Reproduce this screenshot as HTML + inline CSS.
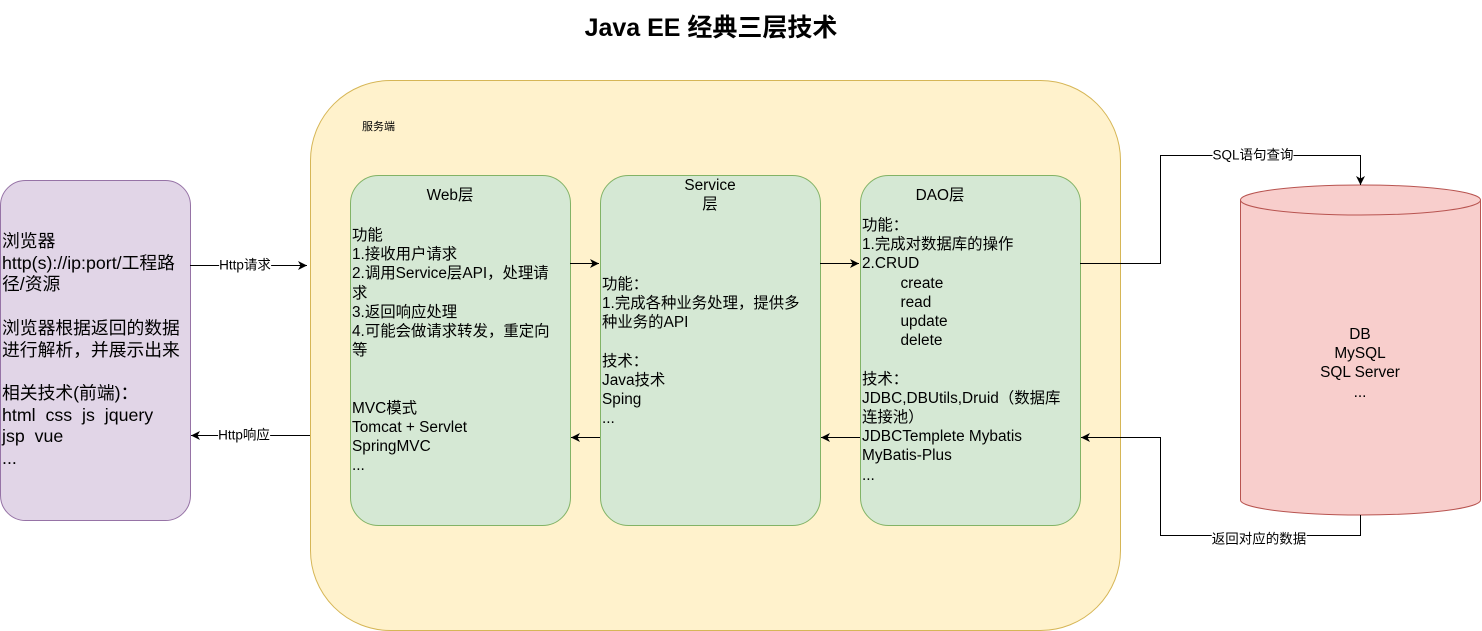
<!DOCTYPE html>
<html><head><meta charset="utf-8"><style>
body{margin:0;width:1482px;height:631px;background:#fff;position:relative;overflow:hidden;font-family:"Liberation Sans","Noto Sans CJK SC",sans-serif;color:#000}
.a{position:absolute;white-space:nowrap}
.t{position:absolute;font-size:15.4px;line-height:19.2px;white-space:nowrap}
.lb{position:absolute;font-size:13.5px;background:#fff;line-height:15px;transform:translate(-50%,-50%);white-space:nowrap}
</style></head><body>
<div class="a" style="left:0;width:1422px;top:8px;text-align:center;font-size:25px;font-weight:bold">Java EE 经典三层技术</div>
<svg width="1482" height="631" style="position:absolute;left:0;top:0">
<defs><marker id="m" markerWidth="10" markerHeight="10" refX="9" refY="5" orient="auto" markerUnits="userSpaceOnUse"><path d="M0,0.5 L9,5 L0,9.5 L2.5,5z" fill="#000"/></marker></defs>
<rect x="310.5" y="80.5" width="810" height="550" rx="80" fill="#fff2cc" stroke="#d6b656"/>
<rect x="0.5" y="180.5" width="190" height="340" rx="25" fill="#e1d5e7" stroke="#9673a6"/>
<rect x="350.5" y="175.5" width="220" height="350" rx="28" fill="#d5e8d4" stroke="#82b366"/>
<rect x="600.5" y="175.5" width="220" height="350" rx="28" fill="#d5e8d4" stroke="#82b366"/>
<rect x="860.5" y="175.5" width="220" height="350" rx="28" fill="#d5e8d4" stroke="#82b366"/>
<path d="M1240.5,200 L1240.5,500 A120,15 0 0 0 1480.5,500 L1480.5,200 A120,15 0 0 0 1240.5,200 Z" fill="#f8cecc" stroke="#b85450"/>
<path d="M1240.5,200 A120,15 0 0 0 1480.5,200" fill="none" stroke="#b85450"/>
<g stroke="#000" fill="none" stroke-width="1">
<path d="M190,265.5 H307" marker-end="url(#m)"/>
<path d="M310,435.5 H191" marker-end="url(#m)"/>
<path d="M570,263.5 H599" marker-end="url(#m)"/>
<path d="M600,437.5 H571" marker-end="url(#m)"/>
<path d="M820,263.5 H859" marker-end="url(#m)"/>
<path d="M860,437.5 H821" marker-end="url(#m)"/>
<path d="M1080,263.5 H1160.5 V155.5 H1360.5 V185" marker-end="url(#m)"/>
<path d="M1360.5,515 V535.5 H1160.5 V437.5 H1081" marker-end="url(#m)"/>
</g></svg>
<div class="lb" style="left:245px;top:265px">Http请求</div>
<div class="lb" style="left:244px;top:435px">Http响应</div>
<div class="lb" style="left:1253px;top:155px">SQL语句查询</div>
<div class="lb" style="left:1259px;top:539px">返回对应的数据</div>
<div class="a" style="left:362px;top:118px;font-size:11px">服务端</div>
<div class="a" style="left:2px;top:231px;font-size:17.8px;line-height:21.7px">浏览器<br>http(s)://ip:port/工程路<br>径/资源<br><br>浏览器根据返回的数据<br>进行解析，并展示出来<br><br>相关技术(前端)：<br>html&nbsp; css&nbsp; js&nbsp; jquery<br>jsp&nbsp; vue<br>...</div>
<div class="t" style="left:350px;width:200px;text-align:center;top:186px">Web层</div>
<div class="t" style="left:352px;top:226px">功能<br>1.接收用户请求<br>2.调用Service层API，处理请<br>求<br>3.返回响应处理<br>4.可能会做请求转发，重定向<br>等<br><br><br>MVC模式<br>Tomcat + Servlet<br>SpringMVC<br>...</div>
<div class="t" style="left:600px;width:220px;text-align:center;top:176px">Service<br>层</div>
<div class="t" style="left:602px;top:275px">功能：<br>1.完成各种业务处理，提供多<br>种业务的API<br><br>技术：<br>Java技术<br>Sping<br>...</div>
<div class="t" style="left:860px;width:160px;text-align:center;top:186px">DAO层</div>
<div class="t" style="left:862px;top:216px">功能：<br>1.完成对数据库的操作<br>2.CRUD<br>&nbsp;&nbsp;&nbsp;&nbsp;&nbsp;&nbsp;&nbsp;&nbsp;&nbsp;create<br>&nbsp;&nbsp;&nbsp;&nbsp;&nbsp;&nbsp;&nbsp;&nbsp;&nbsp;read<br>&nbsp;&nbsp;&nbsp;&nbsp;&nbsp;&nbsp;&nbsp;&nbsp;&nbsp;update<br>&nbsp;&nbsp;&nbsp;&nbsp;&nbsp;&nbsp;&nbsp;&nbsp;&nbsp;delete<br><br>技术：<br>JDBC,DBUtils,Druid（数据库<br>连接池）<br>JDBCTemplete Mybatis<br>MyBatis-Plus<br>...</div>
<div class="t" style="left:1240px;width:240px;text-align:center;top:325px">DB<br>MySQL<br>SQL Server<br>...</div>
</body></html>
